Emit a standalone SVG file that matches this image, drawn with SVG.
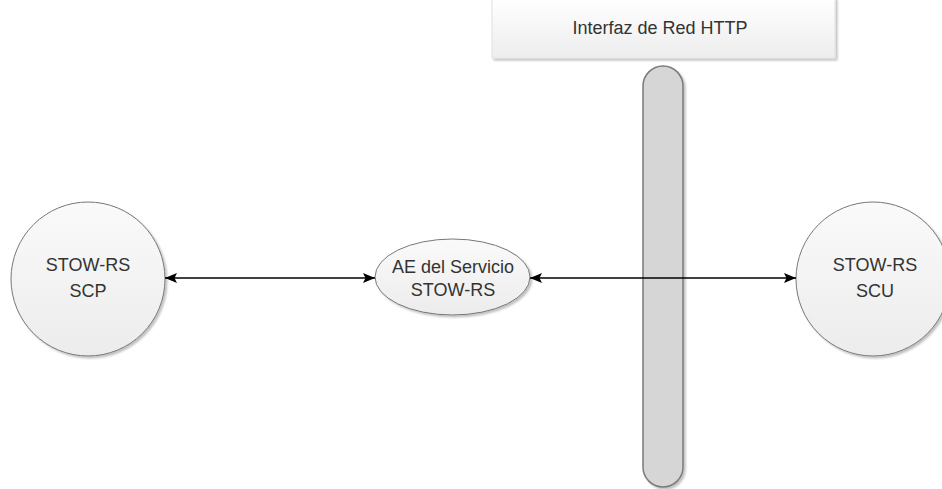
<svg xmlns="http://www.w3.org/2000/svg" width="942" height="489" viewBox="0 0 942 489">
<defs>
<style>
.lbl{font-family:"Liberation Sans",Arial,sans-serif;font-size:18px;fill:#333;text-anchor:middle}
.node{fill:url(#g1);stroke:#777;stroke-width:1}
.conn{stroke:#000;stroke-width:1.3;fill:none;marker-start:url(#ah);marker-end:url(#ah)}
</style>
<linearGradient id="g1" x1="0" y1="0" x2="0" y2="1"><stop offset="0" stop-color="#fafafa"/><stop offset="1" stop-color="#ececec"/></linearGradient>
<linearGradient id="g2" x1="0" y1="0" x2="0" y2="1"><stop offset="0" stop-color="#ffffff"/><stop offset="1" stop-color="#ededed"/></linearGradient>
<filter id="sh" x="-20%" y="-20%" width="140%" height="140%"><feGaussianBlur in="SourceAlpha" stdDeviation="1.2"/><feOffset dx="2" dy="2"/><feComponentTransfer><feFuncA type="linear" slope="0.25"/></feComponentTransfer><feMerge><feMergeNode/><feMergeNode in="SourceGraphic"/></feMerge></filter>
<marker id="ah" viewBox="0 0 12 12" refX="12" refY="6" markerWidth="12" markerHeight="12" markerUnits="userSpaceOnUse" orient="auto-start-reverse"><path d="M0,1 L12,6 L0,11 L2.5,6 Z" fill="#000"/></marker>
</defs>
<g id="http-interface">
<rect x="492" y="-2" width="343" height="60" fill="url(#g2)" stroke="#e2e2e2" filter="url(#sh)"/>
<text class="lbl" x="660" y="34">Interfaz de Red HTTP</text>
</g>
<g id="http-bar">
<rect x="643" y="66" width="40" height="421" rx="20" ry="20" fill="#d6d6d6" stroke="#7a7a7a" stroke-width="1.5" filter="url(#sh)"/>
</g>
<g id="scp">
<circle class="node" cx="88" cy="279" r="77" filter="url(#sh)"/>
<text class="lbl" x="88" y="271">STOW-RS</text>
<text class="lbl" x="88" y="297">SCP</text>
</g>
<g id="ae">
<ellipse class="node" cx="452.5" cy="277" rx="77.5" ry="38" filter="url(#sh)"/>
<text class="lbl" x="453" y="273">AE del Servicio</text>
<text class="lbl" x="453" y="296">STOW-RS</text>
</g>
<g id="scu">
<circle class="node" cx="873" cy="279" r="77" filter="url(#sh)"/>
<text class="lbl" x="875" y="271">STOW-RS</text>
<text class="lbl" x="875" y="297">SCU</text>
</g>
<g id="connectors">
<line class="conn" x1="165" y1="278" x2="375" y2="278"/>
<line class="conn" x1="530" y1="278" x2="796" y2="278"/>
</g>
</svg>
